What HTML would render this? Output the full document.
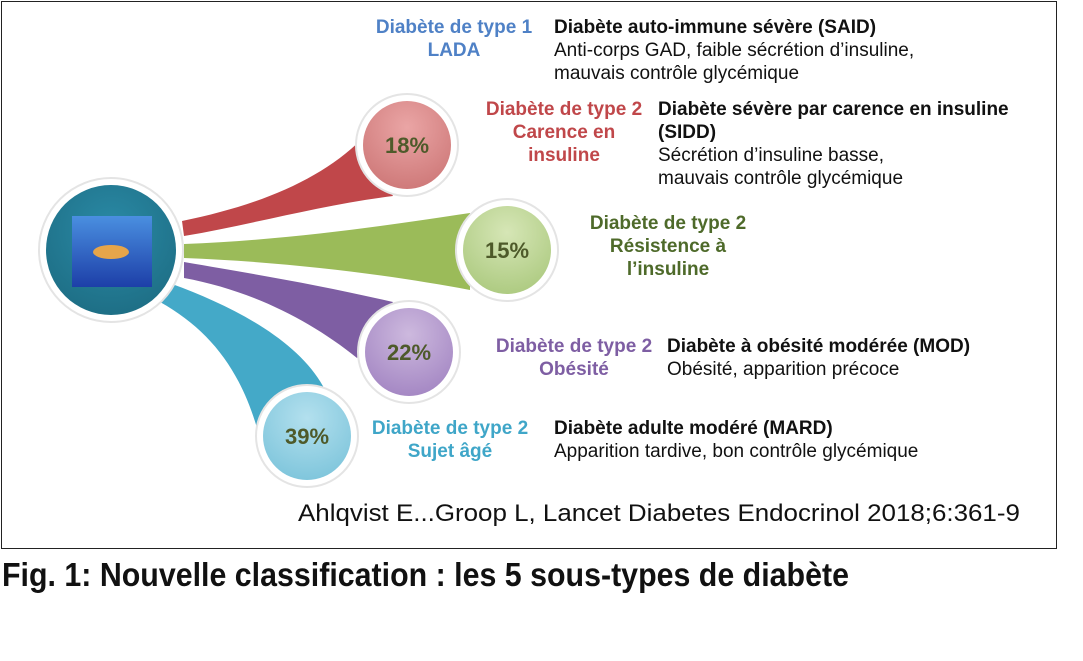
<!DOCTYPE html>
<html><head><meta charset="utf-8"><style>
body{margin:0;width:1083px;height:661px;background:#fff;position:relative;overflow:hidden;font-family:"Liberation Sans",Arial,sans-serif}
.frame{position:absolute;left:1px;top:1px;width:1054px;height:546px;border:1.5px solid #222;}
.t{position:absolute;font-size:19px;line-height:23px;white-space:nowrap;color:#111}
.b{font-weight:bold}
.c{text-align:center}
</style></head><body>
<div class="frame"></div>
<svg width="1083" height="661" style="position:absolute;left:0;top:0">
<defs>
<radialGradient id="gc" cx="50%" cy="35%" r="65%"><stop offset="0" stop-color="#2a8aa6"/><stop offset="1" stop-color="#1e6f86"/></radialGradient>
<radialGradient id="gr" cx="50%" cy="30%" r="70%"><stop offset="0" stop-color="#eaa5a5"/><stop offset="1" stop-color="#cf7a7a"/></radialGradient>
<radialGradient id="gg" cx="50%" cy="30%" r="70%"><stop offset="0" stop-color="#d6e6b6"/><stop offset="1" stop-color="#aecb82"/></radialGradient>
<radialGradient id="gp" cx="50%" cy="30%" r="70%"><stop offset="0" stop-color="#cdb9de"/><stop offset="1" stop-color="#a588c4"/></radialGradient>
<radialGradient id="gb" cx="50%" cy="30%" r="70%"><stop offset="0" stop-color="#b3e0ee"/><stop offset="1" stop-color="#80c6dc"/></radialGradient>
<linearGradient id="img" x1="0" y1="0" x2="0" y2="1"><stop offset="0" stop-color="#4a8fe0"/><stop offset="1" stop-color="#1d3fa8"/></linearGradient>
</defs>
<path d="M182 221 C260 205 320 180 362 139 L393 196 C320 205 250 225 184 236 Z" fill="#c0474a"/>
<path d="M184 244 C290 240 390 225 470 213 L470 290 C390 275 290 262 184 258 Z" fill="#9bbb59"/>
<path d="M184 262 C260 275 320 285 393 302 L357 358 C310 320 250 290 184 278 Z" fill="#7e5ea3"/>
<path d="M172 284 C230 305 300 340 325 390 L257 428 C240 370 210 330 160 302 Z" fill="#44a9c8"/>
<circle cx="111" cy="250" r="72" fill="#fff" stroke="#e4e4e4" stroke-width="2"/>
<circle cx="111" cy="250" r="65" fill="url(#gc)"/>
<rect x="72" y="216" width="80" height="71" fill="url(#img)"/>
<ellipse cx="111" cy="252" rx="18" ry="7" fill="#e6a54a"/>
<g font-family="Liberation Sans,Arial,sans-serif" font-weight="bold" font-size="22" fill="#4e5a2a" text-anchor="middle">
<circle cx="407" cy="145" r="51" fill="#fff" stroke="#e4e4e4" stroke-width="2"/><circle cx="407" cy="145" r="44" fill="url(#gr)"/><text x="407" y="153">18%</text>
<circle cx="507" cy="250" r="51" fill="#fff" stroke="#e4e4e4" stroke-width="2"/><circle cx="507" cy="250" r="44" fill="url(#gg)"/><text x="507" y="258">15%</text>
<circle cx="409" cy="352" r="51" fill="#fff" stroke="#e4e4e4" stroke-width="2"/><circle cx="409" cy="352" r="44" fill="url(#gp)"/><text x="409" y="360">22%</text>
<circle cx="307" cy="436" r="51" fill="#fff" stroke="#e4e4e4" stroke-width="2"/><circle cx="307" cy="436" r="44" fill="url(#gb)"/><text x="307" y="444">39%</text>
</g>
</svg>
<div class="t b c" style="left:354px;top:16px;width:200px;color:#4f81c6">Diabète de type 1<br>LADA</div>
<div class="t" style="left:554px;top:16px"><span class="b">Diabète auto-immune sévère (SAID)</span><br>Anti-corps GAD, faible sécrétion d’insuline,<br>mauvais contrôle glycémique</div>
<div class="t b c" style="left:464px;top:98px;width:200px;color:#c0474a">Diabète de type 2<br>Carence en<br>insuline</div>
<div class="t" style="left:658px;top:98px"><span class="b">Diabète sévère par carence en insuline<br>(SIDD)</span><br>Sécrétion d’insuline basse,<br>mauvais contrôle glycémique</div>
<div class="t b c" style="left:568px;top:212px;width:200px;color:#4e6a2a">Diabète de type 2<br>Résistence à<br>l’insuline</div>
<div class="t b c" style="left:474px;top:335px;width:200px;color:#7e5ea3">Diabète de type 2<br>Obésité</div>
<div class="t" style="left:667px;top:335px"><span class="b">Diabète à obésité modérée (MOD)</span><br>Obésité, apparition précoce</div>
<div class="t b c" style="left:350px;top:417px;width:200px;color:#3fa6c8">Diabète de type 2<br>Sujet âgé</div>
<div class="t" style="left:554px;top:417px"><span class="b">Diabète adulte modéré (MARD)</span><br>Apparition tardive, bon contrôle glycémique</div>
<div class="t" style="left:298px;top:500px;font-size:24px;line-height:28px;color:#111;transform:scaleX(1.08);transform-origin:left">Ahlqvist E...Groop L, Lancet Diabetes Endocrinol 2018;6:361-9</div>
<div class="t b" style="left:2px;top:556px;font-size:33px;line-height:38px;color:#111;transform:scaleX(0.92);transform-origin:left">Fig. 1: Nouvelle classification : les 5 sous-types de diabète</div>
</body></html>
